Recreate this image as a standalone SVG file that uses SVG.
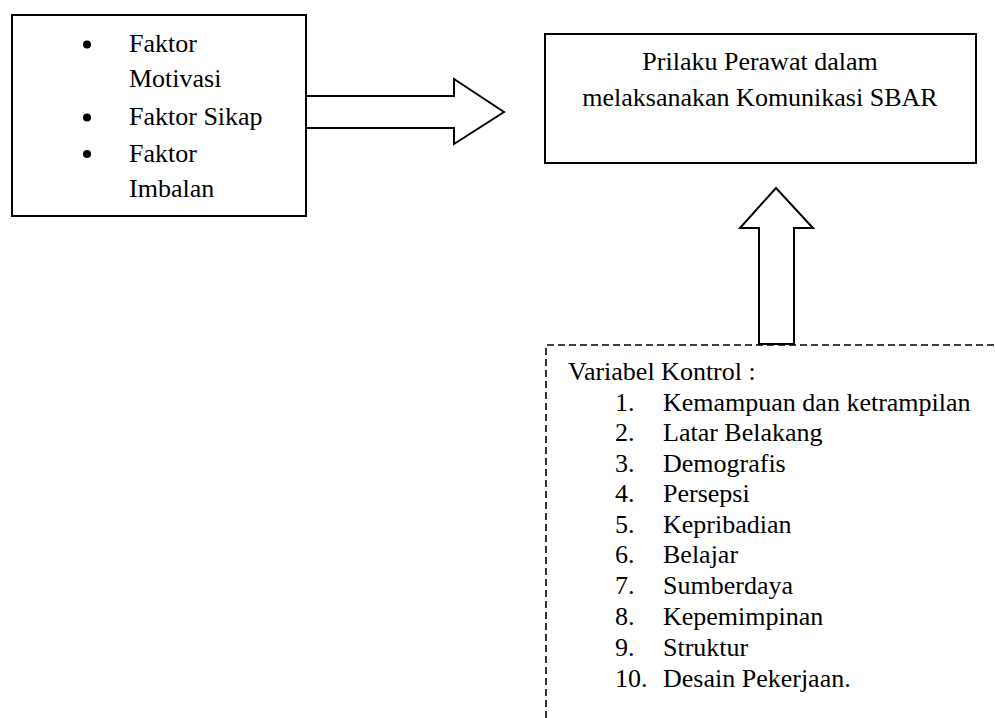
<svg xmlns="http://www.w3.org/2000/svg" width="995" height="718" viewBox="0 0 995 718">
<style>
text{font-family:"Liberation Serif","Times New Roman",serif;font-size:26px;fill:#000}
.box{fill:#fff;stroke:#000;stroke-width:2}
.arrow{fill:#fff;stroke:#000;stroke-width:2;stroke-linejoin:miter}
.dash{fill:none;stroke:#000;stroke-width:1.6;stroke-dasharray:7,4}
</style>
<rect width="995" height="718" fill="#fff"/>
<g id="connectors">
<polygon class="arrow" points="306,96 454,96 454,79 504,112 454,144 454,128 306,128"/>
<polygon class="arrow" points="759,344 759,228 740,228 776,188 813,228 794,228 794,344"/>
</g>
<g id="faktor">
<rect class="box" x="12" y="15" width="294" height="201"/>
<circle cx="87" cy="44.5" r="4"/>
<circle cx="87" cy="117.5" r="4"/>
<circle cx="87" cy="154" r="4"/>
<text x="129" y="52">Faktor</text>
<text x="129" y="87">Motivasi</text>
<text x="129" y="125">Faktor Sikap</text>
<text x="129" y="162">Faktor</text>
<text x="129" y="197">Imbalan</text>
</g>
<g id="perilaku">
<rect class="box" x="545" y="34" width="431" height="129"/>
<text x="760" y="70" text-anchor="middle">Prilaku Perawat dalam</text>
<text x="760" y="106" text-anchor="middle">melaksanakan Komunikasi SBAR</text>
</g>
<g id="kontrol">
<path class="dash" d="M546,718 V345 H995"/>
<text x="568" y="380">Variabel Kontrol :</text>
<text x="615" y="411">1.</text><text x="663" y="411">Kemampuan dan ketrampilan</text>
<text x="615" y="441">2.</text><text x="663" y="441">Latar Belakang</text>
<text x="615" y="472">3.</text><text x="663" y="472">Demografis</text>
<text x="615" y="502">4.</text><text x="663" y="502">Persepsi</text>
<text x="615" y="533">5.</text><text x="663" y="533">Kepribadian</text>
<text x="615" y="563">6.</text><text x="663" y="563">Belajar</text>
<text x="615" y="594">7.</text><text x="663" y="594">Sumberdaya</text>
<text x="615" y="625">8.</text><text x="663" y="625">Kepemimpinan</text>
<text x="615" y="656">9.</text><text x="663" y="656">Struktur</text>
<text x="615" y="687">10.</text><text x="663" y="687">Desain Pekerjaan.</text>
</g>
</svg>
